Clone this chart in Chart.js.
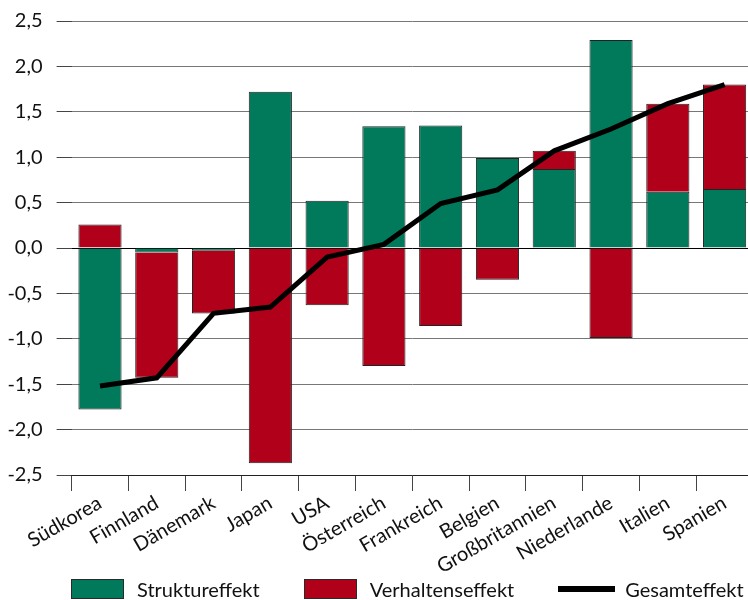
<!DOCTYPE html>
<html>
<head>
<meta charset="utf-8">
<script src="https://cdn.jsdelivr.net/npm/chart.js@4.4.0/dist/chart.umd.min.js"></script>
<style>
  html, body { margin: 0; padding: 0; background: #fff; overflow: hidden; }
  #wrap { position: relative; width: 748px; height: 600px; overflow: hidden; }
  #myChart { position: absolute; left: 0; top: 0; }
  #legende { position: absolute; left: 71px; top: 579px; display: flex; align-items: center;
             font-family: Lato, "Open Sans", sans-serif; font-size: 20px; color: #111; white-space: nowrap; }
  #legende .eintrag { display: flex; align-items: center; margin-right: 44px; }
  #legende .kasten { width: 51px; height: 18px; border: 1px solid #2a2a2a; margin-right: 13px; }
  #legende .strich { width: 57px; height: 6px; margin: 7px 10px 7px 0; }
  #legende span { line-height: 20px; }
</style>
</head>
<body>
<div id="wrap">
  <canvas id="myChart" width="760" height="600"></canvas>
  <div id="legende"></div>
</div>
<script>
// Länder (sortiert nach Gesamteffekt)
var laender = ['Südkorea', 'Finnland', 'Dänemark', 'Japan', 'USA', 'Österreich', 'Frankreich', 'Belgien', 'Großbritannien', 'Niederlande', 'Italien', 'Spanien'];
var struktureffekt = [-1.78, -0.05, -0.03, 1.72, 0.52, 1.34, 1.35, 0.99, 0.87, 2.29, 0.62, 0.65];
var verhaltenseffekt = [0.26, -1.38, -0.69, -2.37, -0.63, -1.30, -0.86, -0.35, 0.20, -0.99, 0.97, 1.15];
var gesamteffekt = [-1.52, -1.43, -0.72, -0.65, -0.10, 0.04, 0.49, 0.64, 1.07, 1.31, 1.59, 1.80];

var schrift = 'Lato, "Open Sans", sans-serif';

var ctx = document.getElementById('myChart').getContext('2d');
var myChart = new Chart(ctx, {
    type: 'bar',
    data: {
        labels: laender,
        datasets: [{
            label: 'Struktureffekt',
            data: struktureffekt,
            backgroundColor: '#007a5b',
            borderColor: '#222',
            borderWidth: 1,
            barPercentage: 0.76,
            categoryPercentage: 1,
            stack: 'effekte',
            order: 1
        }, {
            label: 'Verhaltenseffekt',
            data: verhaltenseffekt,
            backgroundColor: '#b0001a',
            borderColor: '#222',
            borderWidth: 1,
            barPercentage: 0.76,
            categoryPercentage: 1,
            stack: 'effekte',
            order: 1
        }, {
            type: 'line',
            label: 'Gesamteffekt',
            data: gesamteffekt,
            borderColor: '#000',
            backgroundColor: '#000',
            borderWidth: 5,
            pointRadius: 0,
            tension: 0,
            stack: 'gesamt',
            order: 0
        }]
    },
    options: {
        responsive: false,
        animation: false,
        layout: { padding: { top: 21, left: 4, right: 7, bottom: 15 } },
        plugins: {
            tooltip: { enabled: false },
            legend: { display: false }
        },
        scales: {
            x: {
                stacked: true,
                afterFit: function(s) { s.height = 110; },
                grid: {
                    offset: true,
                    drawOnChartArea: false,
                    tickLength: 16,
                    tickColor: '#444'
                },
                border: { display: true, color: '#222', width: 1 },
                ticks: {
                    minRotation: 30,
                    maxRotation: 30,
                    autoSkip: false,
                    padding: 0,
                    color: '#111',
                    font: { family: schrift, size: 20 }
                }
            },
            y: {
                stacked: true,
                min: -2.5,
                max: 2.5,
                afterFit: function(s) { s.width = 67.6; },
                grid: {
                    color: function(c) { return c.tick && c.tick.value === 0 ? '#000' : '#777'; },
                    borderDash: function(c) { return c.tick && c.tick.value === 0 ? [] : [3, 1]; },
                    tickLength: 15,
                    tickColor: '#444',
                    tickBorderDash: []
                },
                border: { display: false },
                ticks: {
                    stepSize: 0.5,
                    padding: 14,
                    color: '#111',
                    font: { family: schrift, size: 20, lineHeight: 0.6 },
                    callback: function(v) { return v.toFixed(1).replace('.', ','); }
                }
            }
        }
    }
});

// Legende unter dem Diagramm, aus den Datensätzen gebaut
var legende = document.getElementById('legende');
myChart.data.datasets.forEach(function(ds) {
    var eintrag = document.createElement('div');
    eintrag.className = 'eintrag';
    var zeichen = document.createElement('div');
    zeichen.className = ds.type === 'line' ? 'strich' : 'kasten';
    zeichen.style.background = ds.type === 'line' ? ds.borderColor : ds.backgroundColor;
    var text = document.createElement('span');
    text.textContent = ds.label;
    eintrag.appendChild(zeichen);
    eintrag.appendChild(text);
    legende.appendChild(eintrag);
});
</script>
</body>
</html>
